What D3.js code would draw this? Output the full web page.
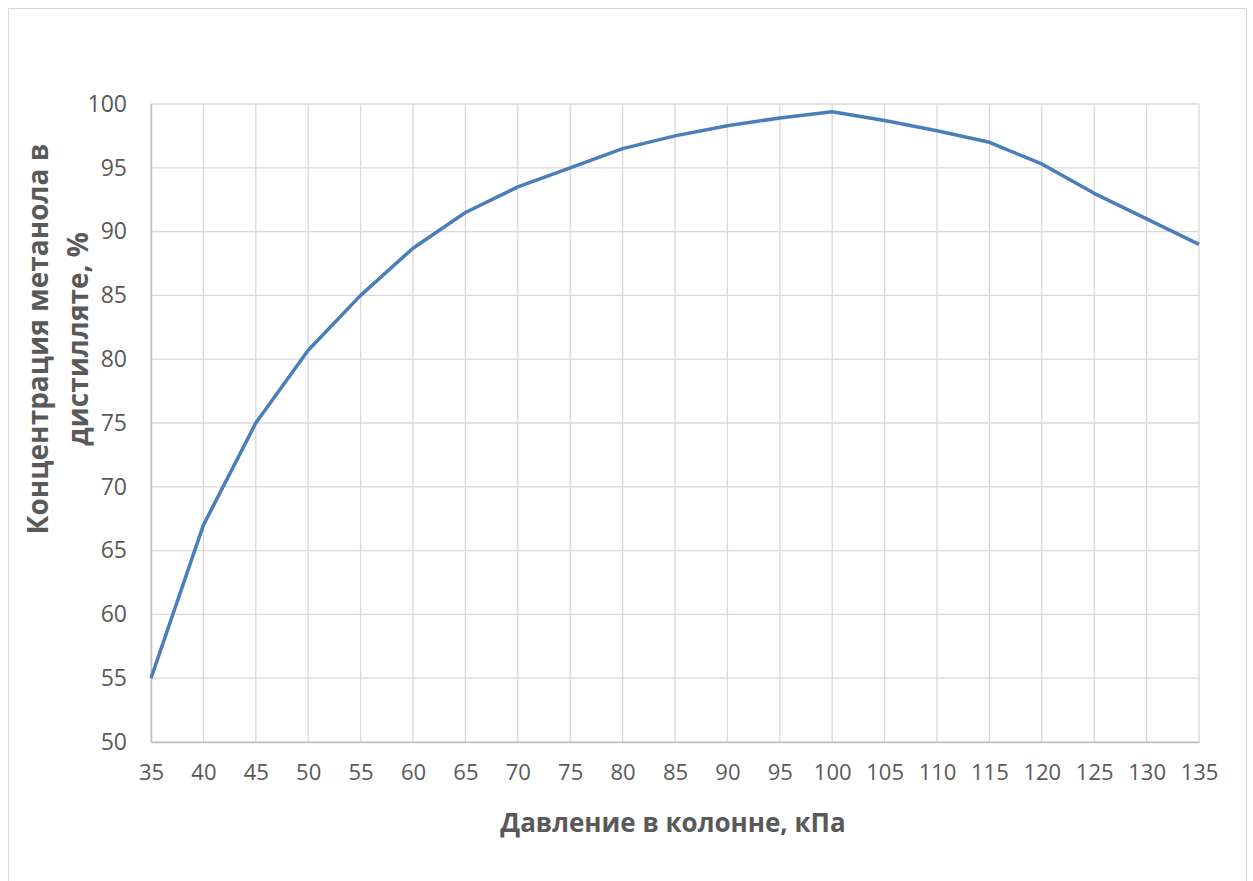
<!DOCTYPE html>
<html><head><meta charset="utf-8">
<script src="https://cdn.jsdelivr.net/npm/d3@7"></script>
<style>body{margin:0;background:#fff}svg{display:block}</style>
</head><body>
<script>
const pressure = [35,40,45,50,55,60,65,70,75,80,85,90,95,100,105,110,115,120,125,130,135];
const concentration = [55,67,75,80.7,85,88.7,91.5,93.5,95,96.5,97.5,98.3,98.9,99.4,98.7,97.9,97,95.3,93,91,89];
const yTicks = [50,55,60,65,70,75,80,85,90,95,100];
const xTitle = "Давление в колонне, кПа";
const yTitleLines = ["Концентрация метанола в", "дистилляте, %"];

const W = 1253, H = 881;
const svg = d3.select("body").append("svg").attr("width", W).attr("height", H);
svg.append("rect").attr("x", 8.5).attr("y", 8.5).attr("width", 1238).attr("height", 880)
  .attr("fill", "#fff").attr("stroke", "#d9d9d9");

const L = 151, R = 1199, T = 104, B = 742;
const x = d3.scaleLinear().domain([35,135]).range([L,R]);
const y = d3.scaleLinear().domain([50,100]).range([B,T]);
const font = "'Open Sans', 'Liberation Sans', sans-serif";

// grid
svg.append("g").selectAll("line").data(yTicks).join("line")
  .attr("x1", L).attr("x2", R).attr("y1", d => y(d)).attr("y2", d => y(d))
  .attr("stroke", "#d9d9d9").attr("stroke-width", 1.3);
svg.append("g").selectAll("line").data(pressure).join("line")
  .attr("x1", d => x(d)).attr("x2", d => x(d)).attr("y1", T).attr("y2", B)
  .attr("stroke", "#d9d9d9").attr("stroke-width", 1.3);

// axes
const xAxis = svg.append("g").attr("transform", `translate(0,${B})`)
  .call(d3.axisBottom(x).tickValues(pressure).tickSize(0).tickPadding(22));
xAxis.select(".domain").attr("stroke", "#bfbfbf").attr("stroke-width", 1.5);
xAxis.selectAll("text").attr("font-family", font).attr("font-size", 22).attr("fill", "#595959");

const yAxis = svg.append("g").attr("transform", `translate(${L},0)`)
  .call(d3.axisLeft(y).tickValues(yTicks).tickSize(0).tickPadding(24));
yAxis.select(".domain").attr("stroke", "#bfbfbf").attr("stroke-width", 1.5);
yAxis.selectAll("text").attr("font-family", font).attr("font-size", 23).attr("fill", "#595959");

// line
svg.append("path").datum(pressure.map((p,i)=>[p, concentration[i]]))
  .attr("fill", "none").attr("stroke", "#4a7ebb").attr("stroke-width", 3.5)
  .attr("stroke-linejoin", "round")
  .attr("d", d3.line().x(d => x(d[0])).y(d => y(d[1])));

// titles
svg.append("text").attr("x", 673).attr("y", 832).attr("text-anchor", "middle")
  .attr("font-family", font).attr("font-weight", "bold").attr("font-size", 26).attr("fill", "#595959")
  .text(xTitle);
const yt = svg.append("text").attr("transform", `translate(48,339) rotate(-90)`)
  .attr("text-anchor", "middle").attr("font-family", font).attr("font-weight", "bold")
  .attr("font-size", 28).attr("fill", "#595959");
yTitleLines.forEach((t,i) => yt.append("tspan").attr("x", 0).attr("dy", i === 0 ? 0 : 40).text(t));
</script>
</body></html>
